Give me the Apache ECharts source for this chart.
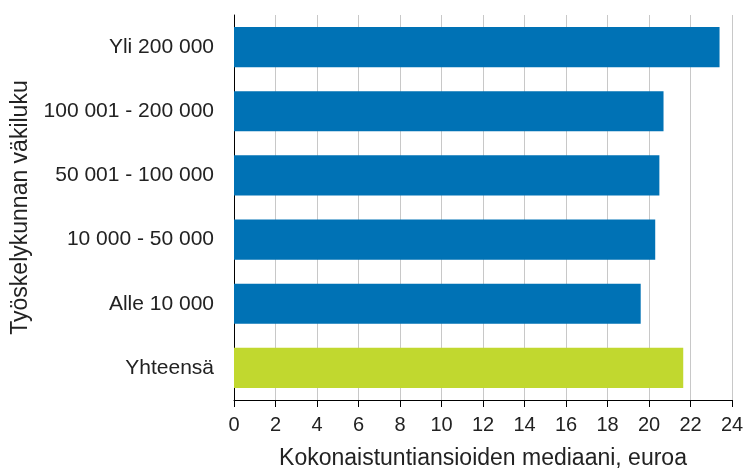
<!DOCTYPE html>
<html>
<head>
<meta charset="utf-8">
<script src="https://cdn.jsdelivr.net/npm/echarts@6/dist/echarts.min.js"></script>
<style>html,body{margin:0;padding:0;background:#fff;}#c{width:744px;height:469px;}</style>
</head>
<body>
<div id="c"></div>
<script>
var categories = ['Yhteensä', 'Alle 10 000', '10 000 - 50 000', '50 001 - 100 000', '100 001 - 200 000', 'Yli 200 000'];
var values = [21.65, 19.6, 20.3, 20.5, 20.7, 23.4];
var xTicks = { min: 0, max: 24, interval: 2 };
var xTitle = 'Kokonaistuntiansioiden mediaani, euroa';
var yTitle = 'Työskelykunnan väkiluku';
var colors = ['#C1D82F', '#0072B5'];

var chart = echarts.init(document.getElementById('c'), null, { renderer: 'canvas' });
var font = 'Liberation Sans, Arial, sans-serif';
chart.setOption({
  animation: false,
  grid: { left: 234, right: 12, top: 15, bottom: 69, containLabel: false, outerBoundsMode: 'none' },
  xAxis: {
    type: 'value', min: xTicks.min, max: xTicks.max, interval: xTicks.interval,
    name: xTitle, nameLocation: 'middle', nameGap: 47,
    nameTextStyle: { fontFamily: font, fontSize: 23, color: '#222' },
    axisLine: { show: true, lineStyle: { color: '#000', width: 1 } },
    axisTick: { show: true, length: 7, lineStyle: { color: '#000' } },
    axisLabel: { fontFamily: font, fontSize: 20, color: '#222', margin: 15 },
    splitLine: { show: true, lineStyle: { color: '#c8c8c8', width: 1 } }
  },
  yAxis: {
    type: 'category', data: categories,
    name: yTitle, nameLocation: 'middle', nameGap: 194, nameRotate: 90,
    nameTextStyle: { fontFamily: font, fontSize: 23, color: '#222' },
    axisLine: { show: true, lineStyle: { color: '#000', width: 1 } },
    axisTick: { show: false },
    axisLabel: { fontFamily: font, fontSize: 21, color: '#222', margin: 20 }
  },
  series: [{
    type: 'bar', data: values.map(function (v, i) {
      return { value: v, itemStyle: { color: i === 0 ? colors[0] : colors[1] } };
    }),
    barCategoryGap: '37.5%'
  }]
});
</script>
</body>
</html>
